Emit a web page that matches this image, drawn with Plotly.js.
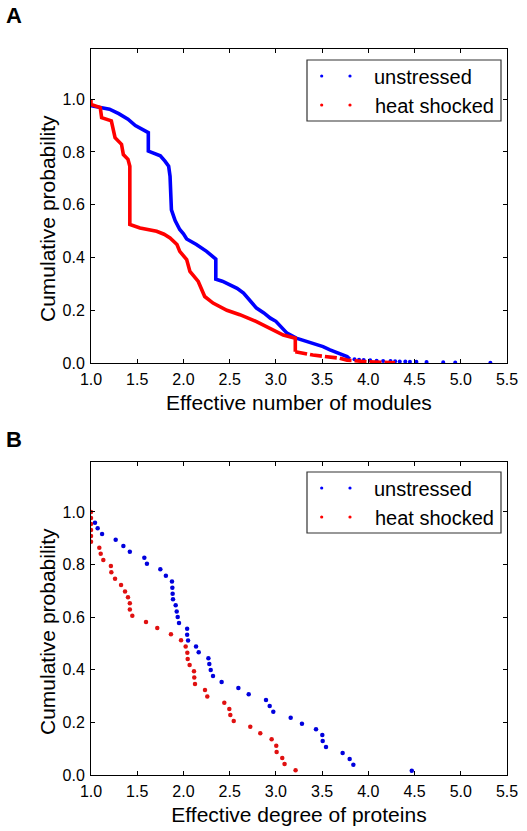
<!DOCTYPE html>
<html>
<head>
<meta charset="utf-8">
<script src="https://cdn.plot.ly/plotly-3.0.1.min.js"></script>
<style>html,body{margin:0;padding:0;background:#fff;}#chart{width:527px;height:831px;}</style>
</head>
<body>
<div id="chart"></div>
<script>
// ---- Panel A: effective number of modules (complementary cumulative) ----
var aUnstressedX = [1.0, 1.1, 1.2, 1.3, 1.4, 1.48, 1.55, 1.62, 1.62, 1.7, 1.75, 1.8, 1.84, 1.855, 1.86, 1.87, 1.91, 1.96, 2.0, 2.035, 2.14, 2.25, 2.35, 2.35, 2.42, 2.5, 2.58, 2.65, 2.72, 2.79, 2.87, 2.94, 3.0, 3.04, 3.12, 3.22, 3.33, 3.40, 3.51, 3.585, 3.68, 3.77, 3.80];
var aUnstressedY = [0.975, 0.968, 0.962, 0.945, 0.924, 0.90, 0.885, 0.873, 0.803, 0.79, 0.785, 0.765, 0.746, 0.708, 0.66, 0.58, 0.54, 0.506, 0.49, 0.47, 0.449, 0.423, 0.394, 0.318, 0.31, 0.297, 0.283, 0.265, 0.237, 0.208, 0.19, 0.17, 0.158, 0.144, 0.113, 0.094, 0.082, 0.075, 0.062, 0.05, 0.035, 0.024, 0.015];
var aUnstressedTailX = [3.85, 3.9, 3.95, 4.02, 4.09, 4.16, 4.24, 4.29, 4.34, 4.40, 4.45, 4.52, 4.63, 4.81, 4.94, 5.32];
var aUnstressedTailY = [0.014, 0.012, 0.011, 0.010, 0.009, 0.008, 0.008, 0.007, 0.006, 0.006, 0.005, 0.005, 0.004, 0.003, 0.002, 0.001];

var aHeatX = [1.0, 1.0, 1.10, 1.115, 1.22, 1.26, 1.33, 1.35, 1.40, 1.42, 1.42, 1.53, 1.71, 1.79, 1.855, 1.93, 1.96, 2.035, 2.07, 2.16, 2.23, 2.32, 2.47, 2.61, 2.79, 2.97, 3.08, 3.21, 3.21];
var aHeatY = [1.0, 0.98, 0.968, 0.93, 0.918, 0.854, 0.829, 0.79, 0.772, 0.746, 0.525, 0.512, 0.499, 0.488, 0.474, 0.449, 0.423, 0.392, 0.347, 0.309, 0.252, 0.227, 0.20, 0.183, 0.157, 0.125, 0.106, 0.094, 0.043];
var aHeatTailX = [3.21, 3.33, 3.40, 3.69, 3.77, 3.98, 4.29];
var aHeatTailY = [0.043, 0.035, 0.030, 0.018, 0.011, 0.005, 0.001];

// ---- Panel B: effective degree of proteins ----
var bUnstressedX = [1.043, 1.072, 1.12, 1.267, 1.35, 1.42, 1.577, 1.605, 1.75, 1.81, 1.876, 1.88, 1.883, 1.887, 1.916, 1.927, 1.938, 1.952, 2.04, 2.04, 2.05, 2.136, 2.165, 2.27, 2.28, 2.295, 2.32, 2.413, 2.594, 2.706, 2.893, 2.933, 2.972, 3.16, 3.282, 3.434, 3.502, 3.506, 3.542, 3.722, 3.798, 3.838, 4.47];
var bUnstressedY = [0.959, 0.938, 0.916, 0.894, 0.871, 0.849, 0.826, 0.803, 0.782, 0.758, 0.736, 0.712, 0.689, 0.668, 0.645, 0.622, 0.601, 0.578, 0.556, 0.533, 0.511, 0.489, 0.467, 0.444, 0.422, 0.399, 0.376, 0.354, 0.331, 0.307, 0.285, 0.262, 0.240, 0.218, 0.195, 0.174, 0.152, 0.129, 0.106, 0.084, 0.061, 0.039, 0.016];

var bHeatX = [1.0, 1.0, 1.0, 1.0, 1.0, 1.0, 1.09, 1.105, 1.133, 1.215, 1.22, 1.26, 1.325, 1.368, 1.40, 1.42, 1.42, 1.447, 1.595, 1.717, 1.865, 1.974, 2.024, 2.042, 2.046, 2.067, 2.114, 2.117, 2.125, 2.233, 2.258, 2.442, 2.496, 2.507, 2.544, 2.723, 2.831, 2.954, 3.004, 3.008, 3.069, 3.094, 3.213];
var bHeatY = [1.0, 0.977, 0.954, 0.931, 0.909, 0.887, 0.864, 0.841, 0.817, 0.795, 0.771, 0.746, 0.722, 0.698, 0.676, 0.653, 0.629, 0.605, 0.582, 0.559, 0.535, 0.512, 0.489, 0.465, 0.441, 0.418, 0.394, 0.371, 0.346, 0.323, 0.298, 0.275, 0.251, 0.228, 0.205, 0.183, 0.159, 0.136, 0.111, 0.087, 0.065, 0.042, 0.018];

var seriesNames = ['unstressed', 'heat shocked'];
var xTickVals = [1.0, 1.5, 2.0, 2.5, 3.0, 3.5, 4.0, 4.5, 5.0, 5.5];
var yTickVals = [0.0, 0.2, 0.4, 0.6, 0.8, 1.0];

var BLUE = '#0000ff', RED = '#ff0000';
var FONT = 'Liberation Sans, Arial, Helvetica, sans-serif';

var traces = [
  {x: aUnstressedX, y: aUnstressedY, mode: 'lines', line: {color: BLUE, width: 3.6}, xaxis: 'x', yaxis: 'y', showlegend: false},
  {x: aUnstressedTailX, y: aUnstressedTailY, mode: 'markers', marker: {color: BLUE, size: 4}, xaxis: 'x', yaxis: 'y', showlegend: false},
  {x: aHeatX, y: aHeatY, mode: 'lines', line: {color: RED, width: 3.6}, xaxis: 'x', yaxis: 'y', showlegend: false},
  {x: aHeatTailX, y: aHeatTailY, mode: 'lines', line: {color: RED, width: 3.6, dash: '12px,3px'}, xaxis: 'x', yaxis: 'y', showlegend: false},
  {x: bUnstressedX, y: bUnstressedY, mode: 'markers', marker: {color: '#0000dd', size: 4.5}, xaxis: 'x2', yaxis: 'y2', showlegend: false},
  {x: bHeatX, y: bHeatY, mode: 'markers', marker: {color: '#e01010', size: 4.5}, xaxis: 'x2', yaxis: 'y2', showlegend: false}
];

// pixel -> paper helpers (plot area: left 91, width 416; bottom 775, height 726)
function px(x) { return (x - 91) / 416; }
function py(y) { return (775 - y) / 726; }

function axisX(title, anchor) {
  return {
    range: [1.0, 5.5], tickvals: xTickVals, tickformat: '.1f',
    ticks: 'inside', ticklen: 4, tickcolor: '#000', tickwidth: 1,
    showline: true, linecolor: '#000', linewidth: 1, mirror: 'ticks',
    showgrid: false, zeroline: false, anchor: anchor,
    tickfont: {family: FONT, size: 16, color: '#000'},
    ticklabelstandoff: 2,
    title: {text: title, font: {family: FONT, size: 21, color: '#000'}, standoff: 8}
  };
}
function axisY(domain, anchor) {
  return {
    range: [0, 1.19], tickvals: yTickVals, tickformat: '.1f', domain: domain,
    ticks: 'inside', ticklen: 4, tickcolor: '#000', tickwidth: 1,
    showline: true, linecolor: '#000', linewidth: 1, mirror: 'ticks',
    showgrid: false, zeroline: false, anchor: anchor,
    tickfont: {family: FONT, size: 16, color: '#000'},
    ticklabelstandoff: 2
  };
}

var shapes = [];
var annotations = [];
function legend(topPx) {
  var top = topPx, bottom = topPx + 61;
  shapes.push({type: 'rect', xref: 'paper', yref: 'paper', x0: px(307), x1: px(501), y0: py(top), y1: py(bottom),
    line: {color: '#333', width: 1.2}, fillcolor: '#fff', layer: 'above'});
  var rows = [topPx + 16, topPx + 45];
  var colors = [BLUE, RED];
  for (var i = 0; i < 2; i++) {
    [321.7, 350].forEach(function (cx) {
      shapes.push({type: 'circle', xref: 'paper', yref: 'paper', x0: px(cx - 1.6), x1: px(cx + 1.6), y0: py(rows[i] + 1.6), y1: py(rows[i] - 1.6),
        fillcolor: colors[i], line: {width: 0}, layer: 'above'});
    });
    annotations.push({xref: 'paper', yref: 'paper', x: px(i === 0 ? 371.5 : 373), y: py(rows[i] + 1), xanchor: 'left', yanchor: 'middle',
      text: seriesNames[i], showarrow: false, font: {family: FONT, size: 20, color: '#000'}});
  }
}
legend(60);
legend(472);

// y-axis titles
[219, 632].forEach(function (cy) {
  annotations.push({xref: 'paper', yref: 'paper', x: px(47), y: py(cy), xanchor: 'center', yanchor: 'middle', textangle: -90,
    text: 'Cumulative probability', showarrow: false, font: {family: FONT, size: 21, color: '#000'}});
});

annotations.push({xref: 'paper', yref: 'paper', x: px(4), y: py(15), xanchor: 'left', yanchor: 'middle', text: '<b>A</b>', showarrow: false, font: {family: FONT, size: 22, color: '#000'}});
annotations.push({xref: 'paper', yref: 'paper', x: px(4), y: py(440), xanchor: 'left', yanchor: 'middle', text: '<b>B</b>', showarrow: false, font: {family: FONT, size: 22, color: '#000'}});

var layout = {
  width: 527, height: 831,
  margin: {l: 91, r: 20, t: 49, b: 56},
  paper_bgcolor: '#fff', plot_bgcolor: '#fff',
  showlegend: false,
  xaxis: axisX('Effective number of modules', 'y'),
  yaxis: axisY([py(363), 1], 'x'),
  xaxis2: axisX('Effective degree of proteins', 'y2'),
  yaxis2: axisY([0, py(462)], 'x2'),
  shapes: shapes,
  annotations: annotations
};

Plotly.newPlot('chart', traces, layout, {displayModeBar: false, staticPlot: true});
</script>
</body>
</html>
